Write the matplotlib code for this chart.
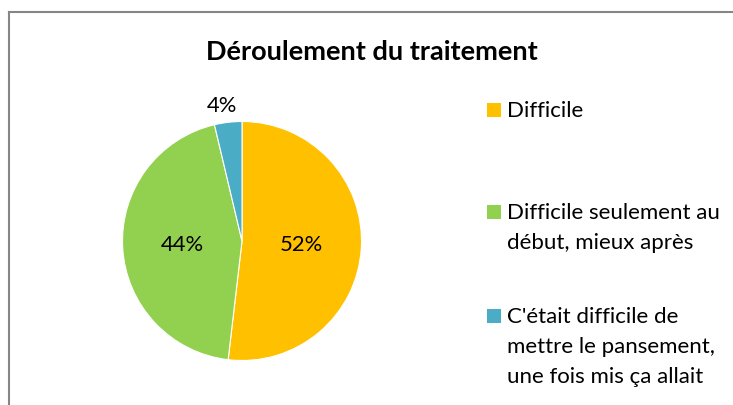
import matplotlib
matplotlib.use("Agg")
import matplotlib.pyplot as plt
from matplotlib.patches import Rectangle
import numpy as np

# ---- data ----
categories = ["Difficile",
              "Difficile seulement au\ndébut, mieux après",
              "C'était difficile de\nmettre le pansement,\nune fois mis ça allait"]
values = [14, 12, 1]
colors = ["#FFC000", "#92D050", "#4BACC6"]
title = "Déroulement du traitement"

W, H = 733, 406
DPI = 100
plt.rcParams['font.family'] = ['Lato', 'DejaVu Sans']
fig = plt.figure(figsize=(W / DPI, H / DPI), dpi=DPI)

def fx(px):
    return px / W

def fy(py):
    return 1 - py / H

# border (open at right / bottom as in the reference crop)
fig.add_artist(plt.Line2D([fx(8.5), fx(8.5)], [fy(13), 0], transform=fig.transFigure,
                          color="#868686", lw=1.5))
fig.add_artist(plt.Line2D([fx(8.5), 1], [fy(13), fy(13)], transform=fig.transFigure,
                          color="#868686", lw=1.5))

fig.text(fx(372), fy(52), title, ha="center", va="center", fontsize=19.5,
         fontweight="bold", color="#000000")

# pie
cx, cy, r = 242, 242, 119.5
ax = fig.add_axes([fx(cx - r), fy(cy + r), (2 * r) / W, (2 * r) / H])
wedges, _ = ax.pie(values, colors=colors, startangle=90, counterclock=False,
                   radius=1, wedgeprops=dict(edgecolor="white", linewidth=0.8))
ax.set_xlim(-1, 1)
ax.set_ylim(-1, 1)
ax.set_aspect("equal")
ax.axis("off")

total = sum(values)
for i, w in enumerate(wedges):
    ang = np.deg2rad((w.theta1 + w.theta2) / 2)
    pct = f"{round(100 * values[i] / total)}%"
    if values[i] / total < 0.1:
        d = 1.15
        x, y = d * np.cos(ang) - 0.03, d * np.sin(ang)
    else:
        d = 0.5
        x, y = d * np.cos(ang), d * np.sin(ang)
    ax.text(x, y, pct, ha="center", va="center", fontsize=15.8, color="#000000",
            clip_on=False)

# legend
first_y = [111, 213, 317]
for cat, col, y0 in zip(categories, colors, first_y):
    fig.add_artist(Rectangle((fx(487), fy(y0 + 7)), 14 / W, 14 / H,
                             transform=fig.transFigure, facecolor=col, edgecolor="none"))
    for k, line in enumerate(cat.split("\n")):
        fig.text(fx(507), fy(y0 + 30 * k), line, ha="left", va="center",
                 fontsize=16, color="#000000")

fig.savefig("out.png", dpi=DPI)
